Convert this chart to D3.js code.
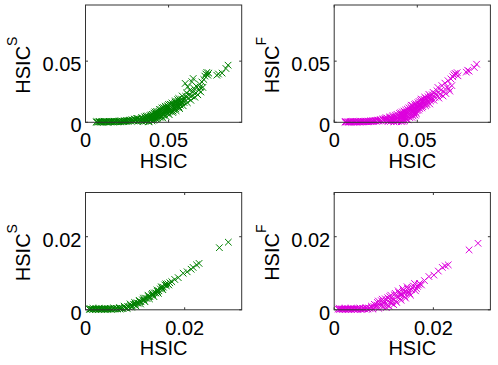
<!DOCTYPE html>
<html>
<head>
<meta charset="utf-8">
<script src="https://cdn.jsdelivr.net/npm/d3@7"></script>
<style>
  body { margin: 0; background: #fff; }
  svg { display: block; font-family: "Liberation Sans", Arial, sans-serif; }
</style>
</head>
<body>
<div id="chart"></div>
<script>
// HSIC vs HSIC^S (green) and HSIC^F (magenta), two data sets (top / bottom row)
var topTicks = [0, 0.05];
var bottomTicks = [0, 0.02];
var topTickLabels = ['0', '0.05'];
var bottomTickLabels = ['0', '0.02'];

var topGreen = [
  [0.0065,0.0002],[0.0072,0.0001],[0.0080,0.0003],[0.0088,0.0002],[0.0095,0.0001],[0.0103,0.0003],
  [0.0110,0.0002],[0.0118,0.0004],[0.0125,0.0002],[0.0133,0.0003],[0.0140,0.0001],[0.0148,0.0004],
  [0.0155,0.0003],[0.0163,0.0005],[0.0170,0.0002],[0.0178,0.0004],[0.0185,0.0006],[0.0193,0.0003],
  [0.0200,0.0005],[0.0208,0.0007],[0.0215,0.0004],[0.0223,0.0008],[0.0230,0.0006],[0.0238,0.0010],
  [0.0245,0.0007],[0.0253,0.0012],[0.0260,0.0009],[0.0268,0.0015],[0.0275,0.0011],[0.0283,0.0019],
  [0.0290,0.0013],[0.0298,0.0024],[0.0305,0.0016],[0.0312,0.0030],
  [0.0068,0.0006],[0.0083,0.0007],[0.0098,0.0005],[0.0113,0.0008],[0.0128,0.0006],[0.0143,0.0008],
  [0.0158,0.0007],[0.0173,0.0009],[0.0188,0.0008],[0.0203,0.0010],[0.0218,0.0011],[0.0233,0.0012],
  [0.0248,0.0014],[0.0263,0.0016],[0.0278,0.0020],[0.0293,0.0025],[0.0308,0.0032],
  [0.0315,0.0008],[0.0322,0.0028],[0.0330,0.0015],[0.0338,0.0040],[0.0345,0.0005],[0.0350,0.0025],
  [0.0356,0.0045],[0.0362,0.0012],[0.0368,0.0035],[0.0374,0.0052],[0.0380,0.0004],[0.0385,0.0022],
  [0.0390,0.0042],[0.0395,0.0060],
  [0.0334,0.0012],[0.0341,0.0030],[0.0353,0.0010],[0.0359,0.0032],[0.0365,0.0050],[0.0371,0.0020],
  [0.0377,0.0040],[0.0383,0.0008],[0.0388,0.0055],[0.0393,0.0025],[0.0398,0.0045],[0.0402,0.0065],
  [0.0400,0.0012],[0.0404,0.0032],[0.0408,0.0055],[0.0412,0.0075],[0.0416,0.0020],[0.0420,0.0045],
  [0.0424,0.0068],[0.0428,0.0090],[0.0432,0.0028],[0.0436,0.0052],[0.0440,0.0078],[0.0444,0.0105],
  [0.0448,0.0040],[0.0452,0.0065],[0.0456,0.0090],[0.0460,0.0118],
  [0.0406,0.0018],[0.0410,0.0040],[0.0414,0.0062],[0.0418,0.0085],[0.0422,0.0030],[0.0426,0.0055],
  [0.0430,0.0078],[0.0434,0.0040],[0.0438,0.0065],[0.0442,0.0090],[0.0446,0.0055],[0.0450,0.0080],
  [0.0454,0.0105],[0.0458,0.0050],[0.0462,0.0075],[0.0466,0.0098],[0.0470,0.0120],
  [0.0465,0.0035],[0.0468,0.0060],[0.0472,0.0085],[0.0476,0.0110],[0.0480,0.0132],[0.0484,0.0048],
  [0.0488,0.0075],[0.0492,0.0100],[0.0496,0.0125],[0.0500,0.0145],[0.0504,0.0062],[0.0508,0.0088],
  [0.0512,0.0112],[0.0516,0.0138],[0.0520,0.0158],
  [0.0474,0.0070],[0.0478,0.0095],[0.0482,0.0118],[0.0486,0.0088],[0.0490,0.0110],[0.0494,0.0135],
  [0.0498,0.0078],[0.0502,0.0100],[0.0506,0.0122],[0.0510,0.0148],[0.0514,0.0095],[0.0518,0.0120],
  [0.0522,0.0142],
  [0.0525,0.0080],[0.0529,0.0105],[0.0533,0.0130],[0.0537,0.0155],[0.0541,0.0175],[0.0545,0.0095],
  [0.0549,0.0122],[0.0553,0.0148],[0.0557,0.0170],[0.0561,0.0195],[0.0566,0.0112],[0.0570,0.0140],
  [0.0574,0.0165],[0.0578,0.0190],[0.0582,0.0215],
  [0.0527,0.0092],[0.0531,0.0118],[0.0535,0.0142],[0.0539,0.0165],[0.0543,0.0110],[0.0547,0.0135],
  [0.0551,0.0160],[0.0555,0.0185],[0.0563,0.0125],[0.0568,0.0152],[0.0572,0.0178],[0.0580,0.0160],
  [0.0586,0.0180],
  [0.0588,0.0135],[0.0593,0.0162],[0.0598,0.0188],[0.0603,0.0212],[0.0608,0.0240],[0.0613,0.0160],
  [0.0618,0.0195],[0.0623,0.0225],[0.0628,0.0262],[0.0634,0.0180],[0.0640,0.0215],[0.0646,0.0250],
  [0.0652,0.0278],[0.0600,0.0318],[0.0640,0.0332],[0.0648,0.0358],[0.0615,0.0290],
  [0.0658,0.0205],[0.0664,0.0240],[0.0670,0.0290],[0.0676,0.0225],[0.0682,0.0262],[0.0688,0.0310],
  [0.0694,0.0248],[0.0700,0.0330],[0.0706,0.0285],[0.0712,0.0350],[0.0718,0.0378],[0.0724,0.0395],
  [0.0730,0.0408],[0.0736,0.0385],[0.0742,0.0402],[0.0690,0.0287],
  [0.0790,0.0385],[0.0800,0.0395],[0.0822,0.0402],[0.0845,0.0440],[0.0858,0.0467]
];

var topMagenta = [
  [0.0065,0.0001],[0.0072,0.0003],[0.0080,0.0002],[0.0088,0.0001],[0.0095,0.0003],[0.0103,0.0002],
  [0.0110,0.0004],[0.0118,0.0002],[0.0125,0.0003],[0.0133,0.0001],[0.0140,0.0004],[0.0148,0.0003],
  [0.0155,0.0002],[0.0163,0.0004],[0.0170,0.0005],[0.0178,0.0003],[0.0185,0.0005],[0.0193,0.0007],
  [0.0200,0.0004],[0.0208,0.0006],[0.0215,0.0008],[0.0223,0.0005],[0.0230,0.0009],[0.0238,0.0007],
  [0.0245,0.0012],[0.0253,0.0008],[0.0260,0.0014],[0.0268,0.0010],[0.0275,0.0018],[0.0283,0.0012],
  [0.0290,0.0022],[0.0298,0.0015],[0.0305,0.0028],[0.0312,0.0018],
  [0.0069,0.0006],[0.0084,0.0005],[0.0099,0.0007],[0.0114,0.0006],[0.0129,0.0008],[0.0144,0.0007],
  [0.0159,0.0009],[0.0174,0.0008],[0.0189,0.0010],[0.0204,0.0009],[0.0219,0.0012],[0.0234,0.0013],
  [0.0249,0.0016],[0.0264,0.0018],[0.0279,0.0022],[0.0294,0.0028],[0.0309,0.0035],
  [0.0318,0.0035],[0.0324,0.0006],[0.0330,0.0024],[0.0336,0.0045],[0.0342,0.0012],[0.0348,0.0032],
  [0.0354,0.0055],[0.0360,0.0003],[0.0366,0.0020],[0.0372,0.0042],[0.0378,0.0065],[0.0384,0.0010],
  [0.0390,0.0030],[0.0396,0.0055],[0.0400,0.0078],
  [0.0327,0.0015],[0.0333,0.0038],[0.0339,0.0008],[0.0345,0.0026],[0.0351,0.0045],[0.0357,0.0015],
  [0.0363,0.0035],[0.0369,0.0058],[0.0375,0.0005],[0.0381,0.0028],[0.0387,0.0050],[0.0393,0.0072],
  [0.0404,0.0005],[0.0408,0.0022],[0.0412,0.0045],[0.0416,0.0068],[0.0420,0.0092],[0.0424,0.0012],
  [0.0428,0.0035],[0.0432,0.0058],[0.0436,0.0082],[0.0440,0.0108],[0.0444,0.0020],[0.0448,0.0048],
  [0.0452,0.0072],[0.0456,0.0098],[0.0460,0.0125],[0.0464,0.0140],
  [0.0398,0.0018],[0.0402,0.0040],[0.0406,0.0062],[0.0410,0.0085],[0.0414,0.0008],[0.0418,0.0030],
  [0.0422,0.0055],[0.0426,0.0078],[0.0430,0.0100],[0.0434,0.0025],[0.0438,0.0048],[0.0442,0.0072],
  [0.0446,0.0095],[0.0450,0.0118],[0.0455,0.0038],[0.0459,0.0062],[0.0463,0.0088],[0.0467,0.0112],
  [0.0471,0.0135],
  [0.0468,0.0040],[0.0472,0.0065],[0.0476,0.0090],[0.0480,0.0115],[0.0484,0.0145],[0.0488,0.0058],
  [0.0492,0.0082],[0.0496,0.0108],[0.0500,0.0132],[0.0504,0.0160],[0.0508,0.0100],[0.0512,0.0125],
  [0.0516,0.0150],[0.0520,0.0178],[0.0524,0.0190],
  [0.0475,0.0052],[0.0479,0.0078],[0.0483,0.0102],[0.0487,0.0128],[0.0491,0.0152],[0.0495,0.0070],
  [0.0499,0.0095],[0.0503,0.0120],[0.0507,0.0145],[0.0511,0.0170],[0.0515,0.0112],[0.0519,0.0138],
  [0.0523,0.0162],[0.0527,0.0185],
  [0.0528,0.0118],[0.0532,0.0142],[0.0536,0.0165],[0.0540,0.0188],[0.0545,0.0205],[0.0550,0.0135],
  [0.0555,0.0158],[0.0560,0.0182],[0.0565,0.0208],[0.0570,0.0228],[0.0575,0.0150],[0.0580,0.0175],
  [0.0585,0.0200],[0.0590,0.0225],[0.0595,0.0245],
  [0.0533,0.0128],[0.0539,0.0152],[0.0545,0.0178],[0.0551,0.0198],[0.0558,0.0145],[0.0564,0.0170],
  [0.0570,0.0195],[0.0578,0.0215],[0.0584,0.0188],
  [0.0600,0.0180],[0.0606,0.0205],[0.0612,0.0232],[0.0618,0.0258],[0.0624,0.0285],[0.0630,0.0198],
  [0.0636,0.0228],[0.0642,0.0262],[0.0648,0.0300],[0.0655,0.0215],[0.0660,0.0250],[0.0666,0.0320],
  [0.0672,0.0235],[0.0678,0.0285],[0.0685,0.0340],[0.0690,0.0276],[0.0696,0.0255],[0.0702,0.0355],
  [0.0708,0.0300],[0.0714,0.0372],[0.0720,0.0388],[0.0727,0.0400],[0.0734,0.0392],[0.0740,0.0406],
  [0.0745,0.0380],
  [0.0795,0.0410],[0.0803,0.0426],[0.0812,0.0418],[0.0843,0.0448],[0.0857,0.0475]
];

var bottomGreen = [
  [0.0008,0.0001],[0.0011,0.0002],[0.0014,0.0001],[0.0017,0.0002],[0.0020,0.0001],[0.0023,0.0002],
  [0.0026,0.0001],[0.0029,0.0002],[0.0032,0.0001],[0.0035,0.0002],[0.0038,0.0001],[0.0041,0.0002],
  [0.0044,0.0001],[0.0047,0.0002],[0.0050,0.0002],[0.0053,0.0001],[0.0056,0.0003],[0.0059,0.0002],
  [0.0062,0.0003],[0.0065,0.0002],[0.0068,0.0004],
  [0.0009,0.0003],[0.0015,0.0004],[0.0021,0.0003],[0.0027,0.0004],[0.0033,0.0003],[0.0039,0.0004],
  [0.0045,0.0003],[0.0051,0.0004],[0.0057,0.0005],[0.0063,0.0004],[0.0069,0.0006],
  [0.0070,0.0002],[0.0073,0.0004],[0.0076,0.0003],[0.0079,0.0006],[0.0082,0.0005],[0.0085,0.0009],
  [0.0088,0.0008],[0.0091,0.0012],[0.0094,0.0011],[0.0097,0.0015],[0.0100,0.0014],[0.0103,0.0019],
  [0.0106,0.0018],[0.0109,0.0023],[0.0112,0.0022],[0.0115,0.0027],[0.0118,0.0027],[0.0121,0.0032],
  [0.0124,0.0031],[0.0127,0.0036],[0.0130,0.0036],[0.0133,0.0041],[0.0136,0.0041],[0.0139,0.0046],
  [0.0142,0.0046],[0.0145,0.0050],[0.0148,0.0052],[0.0151,0.0057],[0.0154,0.0060],[0.0157,0.0062],
  [0.0160,0.0068],[0.0163,0.0066],[0.0166,0.0071],[0.0170,0.0074],[0.0174,0.0077],[0.0180,0.0083],
  [0.0078,0.0010],[0.0084,0.0004],[0.0090,0.0016],[0.0093,0.0007],[0.0099,0.0020],[0.0102,0.0010],
  [0.0108,0.0026],[0.0111,0.0016],[0.0117,0.0032],[0.0120,0.0022],[0.0126,0.0040],[0.0129,0.0030],
  [0.0135,0.0045],[0.0138,0.0036],[0.0144,0.0054],[0.0147,0.0045],[0.0153,0.0063],[0.0156,0.0055],
  [0.0162,0.0071],[0.0168,0.0068],
  [0.0187,0.0088],[0.0197,0.0100],[0.0205,0.0104],[0.0213,0.0111],[0.0217,0.0116],[0.0224,0.0123],
  [0.0229,0.0127],[0.0270,0.0170],[0.0288,0.0185]
];

var bottomMagenta = [
  [0.0008,0.0002],[0.0011,0.0001],[0.0014,0.0002],[0.0017,0.0001],[0.0020,0.0002],[0.0023,0.0001],
  [0.0026,0.0002],[0.0029,0.0001],[0.0032,0.0002],[0.0035,0.0001],[0.0038,0.0002],[0.0041,0.0001],
  [0.0044,0.0002],[0.0047,0.0001],[0.0050,0.0003],[0.0053,0.0002],[0.0056,0.0001],[0.0059,0.0003],
  [0.0062,0.0002],[0.0065,0.0004],[0.0068,0.0002],
  [0.0010,0.0004],[0.0016,0.0003],[0.0022,0.0004],[0.0028,0.0003],[0.0034,0.0004],[0.0040,0.0003],
  [0.0046,0.0004],[0.0052,0.0005],[0.0058,0.0004],[0.0064,0.0006],[0.0070,0.0005],
  [0.0072,0.0004],[0.0075,0.0010],[0.0078,0.0002],[0.0081,0.0015],[0.0084,0.0007],[0.0087,0.0020],
  [0.0090,0.0004],[0.0092,0.0012],[0.0095,0.0025],[0.0098,0.0008],[0.0100,0.0018],[0.0103,0.0030],
  [0.0106,0.0013],[0.0109,0.0024],[0.0112,0.0036],[0.0115,0.0018],[0.0118,0.0030],[0.0121,0.0041],
  [0.0124,0.0024],[0.0127,0.0036],[0.0130,0.0047],[0.0133,0.0030],[0.0136,0.0042],[0.0139,0.0053],
  [0.0142,0.0036],[0.0145,0.0048],[0.0148,0.0058],[0.0152,0.0044],[0.0156,0.0055],[0.0160,0.0065],
  [0.0164,0.0052],[0.0168,0.0064],[0.0172,0.0072],[0.0176,0.0068],[0.0182,0.0080],
  [0.0076,0.0006],[0.0080,0.0009],[0.0086,0.0013],[0.0089,0.0024],[0.0093,0.0018],[0.0097,0.0029],
  [0.0101,0.0023],[0.0105,0.0006],[0.0108,0.0033],[0.0111,0.0010],[0.0114,0.0040],[0.0117,0.0024],
  [0.0120,0.0014],[0.0123,0.0045],[0.0126,0.0020],[0.0129,0.0052],[0.0132,0.0040],[0.0135,0.0026],
  [0.0138,0.0058],[0.0141,0.0046],[0.0144,0.0032],[0.0147,0.0063],[0.0150,0.0050],[0.0154,0.0040],
  [0.0158,0.0060],[0.0162,0.0072],[0.0166,0.0058],[0.0170,0.0068],
  [0.0191,0.0091],[0.0201,0.0095],[0.0210,0.0106],[0.0218,0.0116],[0.0224,0.0120],[0.0230,0.0123],
  [0.0272,0.0164],[0.0290,0.0182]
];

var panels = [
  { data: topGreen, color: '#008000', sup: 'S', xMax: 0.094, yMax: 0.0959, ticks: topTicks, labels: topTickLabels, col: 0, row: 0 },
  { data: topMagenta, color: '#dd00dd', sup: 'F', xMax: 0.094, yMax: 0.0959, ticks: topTicks, labels: topTickLabels, col: 1, row: 0 },
  { data: bottomGreen, color: '#008000', sup: 'S', xMax: 0.0315, yMax: 0.0321, ticks: bottomTicks, labels: bottomTickLabels, col: 0, row: 1 },
  { data: bottomMagenta, color: '#dd00dd', sup: 'F', xMax: 0.0315, yMax: 0.0321, ticks: bottomTicks, labels: bottomTickLabels, col: 1, row: 1 }
];

var W = 498, H = 365;
var colX = [85.5, 334.2];
var rowY = [5, 192.5];
var boxW = 156.2, boxH = 117.3;

var svg = d3.select('#chart').append('svg')
  .attr('width', W)
  .attr('height', H);

panels.forEach(function (p) {
  var g = svg.append('g')
    .attr('transform', 'translate(' + colX[p.col] + ',' + rowY[p.row] + ')');

  var x = d3.scaleLinear().domain([0, p.xMax]).range([0, boxW]);
  var y = d3.scaleLinear().domain([0, p.yMax]).range([boxH, 0]);

  // markers (x shape)
  var s = 3.3;
  g.append('g').selectAll('path')
    .data(p.data)
    .enter().append('path')
    .attr('d', function (d) {
      var cx = x(d[0]), cy = y(d[1]);
      return 'M' + (cx - s) + ',' + (cy - s) + 'L' + (cx + s) + ',' + (cy + s) +
        'M' + (cx - s) + ',' + (cy + s) + 'L' + (cx + s) + ',' + (cy - s);
    })
    .attr('stroke', p.color)
    .attr('stroke-width', 1)
    .attr('fill', 'none');

  // box
  g.append('rect')
    .attr('x', 0).attr('y', 0)
    .attr('width', boxW).attr('height', boxH)
    .attr('fill', 'none')
    .attr('stroke', '#333')
    .attr('stroke-width', 1);

  // inner ticks on all four sides
  var tl = 2.5;
  p.ticks.forEach(function (t, i) {
    g.append('line').attr('x1', x(t)).attr('x2', x(t)).attr('y1', boxH).attr('y2', boxH - tl).attr('stroke', '#333');
    g.append('line').attr('x1', x(t)).attr('x2', x(t)).attr('y1', 0).attr('y2', tl).attr('stroke', '#333');
    g.append('line').attr('y1', y(t)).attr('y2', y(t)).attr('x1', 0).attr('x2', tl).attr('stroke', '#333');
    g.append('line').attr('y1', y(t)).attr('y2', y(t)).attr('x1', boxW).attr('x2', boxW - tl).attr('stroke', '#333');

    g.append('text')
      .attr('x', x(t)).attr('y', boxH + 25)
      .attr('text-anchor', 'middle')
      .attr('font-size', 20)
      .text(p.labels[i]);

    g.append('text')
      .attr('x', -4).attr('y', y(t) + 10)
      .attr('text-anchor', 'end')
      .attr('font-size', 20)
      .text(p.labels[i]);
  });

  // axis labels
  g.append('text')
    .attr('x', boxW / 2).attr('y', boxH + 45.5)
    .attr('text-anchor', 'middle')
    .attr('font-size', 20)
    .text('HSIC');

  var yl = g.append('text')
    .attr('transform', 'translate(' + (-55.5) + ',' + (boxH / 2 + 1.5) + ') rotate(-90)')
    .attr('text-anchor', 'middle')
    .attr('font-size', 20);
  yl.append('tspan').text('HSIC');
  yl.append('tspan').attr('dy', -13).attr('font-size', 14).text(p.sup);
});
</script>
</body>
</html>
